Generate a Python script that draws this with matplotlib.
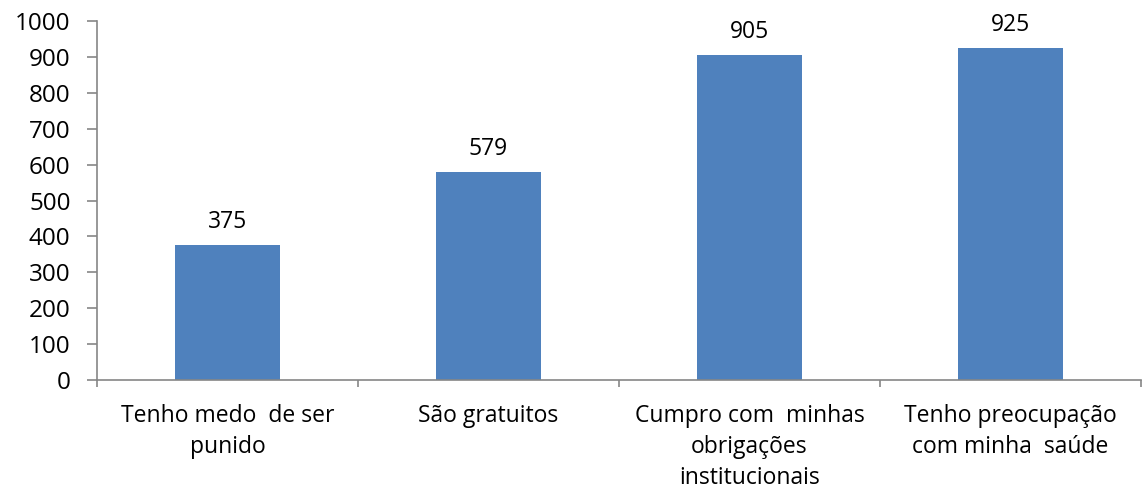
import numpy as np
import matplotlib.pyplot as plt

categorias = ["Tenho medo  de ser\npunido", "São gratuitos",
              "Cumpro com  minhas\nobrigações\ninstitucionais",
              "Tenho preocupação\ncom minha  saúde"]
valores = [375, 579, 905, 925]
yticks = list(range(0, 1001, 100))

plt.rcParams['font.family'] = ['Open Sans', 'DejaVu Sans']
cinza = '#868686'

fig = plt.figure(figsize=(11.42, 4.91), dpi=100)
ax = fig.add_axes([97/1142, 1-380/491, 1-97/1142-0.001, 359/491])

x = np.arange(len(valores))
barras = ax.bar(x, valores, width=0.4, color='#4F81BD')
for xi, v in zip(x, valores):
    ax.annotate(str(v), (xi, v), xytext=(0, 8), textcoords='offset points',
                ha='center', va='bottom', fontsize=16.5)

ax.set_xlim(-0.5, len(valores) - 0.5)
ax.set_ylim(0, 1000)
ax.set_yticks(yticks)
ax.tick_params(axis='y', direction='out', length=7, width=1.2, color=cinza,
               labelsize=17.5, pad=12)

# limites das categorias como ticks principais, rótulos nos ticks menores
ax.set_xticks(np.arange(-0.5, len(valores), 1.0))
ax.set_xticklabels([])
ax.set_xticks(x, minor=True)
ax.set_xticklabels(categorias, minor=True, fontsize=16.5, linespacing=1.4)
ax.tick_params(axis='x', which='major', direction='out', length=5, width=1.2, color=cinza)
ax.tick_params(axis='x', which='minor', length=0, pad=17)

for lado in ['top', 'right']:
    ax.spines[lado].set_visible(False)
for lado in ['left', 'bottom']:
    ax.spines[lado].set_color(cinza)
    ax.spines[lado].set_linewidth(1.2)

plt.savefig('out.png', dpi=100)
